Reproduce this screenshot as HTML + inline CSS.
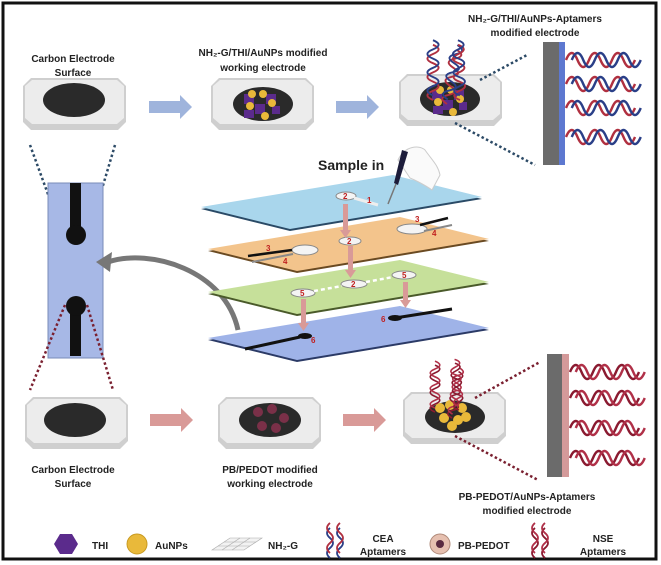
<!DOCTYPE html>
<html><head><meta charset="utf-8"><style>
html,body{margin:0;padding:0;background:#fff}
svg{display:block}
text{font-family:"Liberation Sans",sans-serif;font-weight:bold;fill:#222}
</style></head><body>
<svg width="661" height="565" viewBox="0 0 661 565" xmlns="http://www.w3.org/2000/svg">
<defs>
<g id="elec">
 <polygon points="0,8 8,0 95,0 103,8 103,44 95,52 8,52 0,44" fill="#cfcfcf"/>
 <polygon points="2,8 9,2 94,2 101,8 101,40 94,46 9,46 2,40" fill="#ececec"/>
</g>
<g id="hx">
 <path d="M0,0 q5.75,-14 11.5,0 t11.5,0 t11.5,0 t11.5,0 t11.5,0 t11.5,0" fill="none" stroke-width="2.4"/>
</g>
</defs>
<rect x="3" y="3" width="653" height="556" fill="#fff" stroke="#111" stroke-width="3"/>

<!-- TOP ROW -->
<text x="73" y="62" font-size="10" text-anchor="middle">Carbon Electrode</text>
<text x="73" y="76" font-size="10" text-anchor="middle">Surface</text>
<use href="#elec" x="23" y="78"/>
<ellipse cx="74" cy="100" rx="31" ry="17" fill="#2a2a2a"/>

<polygon points="149,101 180,101 180,95 192,107 180,119 180,113 149,113" fill="#9fb4dc"/>
<polygon points="336,101 367,101 367,95 379,107 367,119 367,113 336,113" fill="#9fb4dc"/>

<text x="263" y="56" font-size="10" text-anchor="middle">NH₂-G/THI/AuNPs modified</text>
<text x="263" y="71" font-size="10" text-anchor="middle">working electrode</text>
<use href="#elec" x="211" y="78"/>
<ellipse cx="263" cy="104" rx="30" ry="17" fill="#2a2a2a"/>
<g fill="#5b2b8c"><rect x="244" y="94" width="10" height="10"/><rect x="266" y="94" width="10" height="10"/><rect x="255" y="104" width="10" height="10"/><rect x="244" y="110" width="10" height="8"/><rect x="272" y="106" width="8" height="8"/></g>
<g fill="#e9b93a"><circle cx="252" cy="94" r="4"/><circle cx="263" cy="94" r="4"/><circle cx="272" cy="103" r="4"/><circle cx="250" cy="106" r="4"/><circle cx="265" cy="116" r="4"/></g>

<use href="#elec" x="399" y="74"/>
<ellipse cx="450" cy="99" rx="30" ry="17" fill="#2a2a2a"/>
<g fill="#5b2b8c"><rect x="432" y="90" width="10" height="10"/><rect x="454" y="90" width="10" height="10"/><rect x="443" y="100" width="10" height="10"/><rect x="433" y="106" width="10" height="8"/><rect x="459" y="102" width="8" height="8"/></g>
<g fill="#e9b93a"><circle cx="440" cy="90" r="4"/><circle cx="451" cy="90" r="4"/><circle cx="460" cy="99" r="4"/><circle cx="438" cy="102" r="4"/><circle cx="453" cy="112" r="4"/></g>
<g transform="translate(433,100) rotate(-90) scale(0.8)"><use href="#hx" stroke="#b03040"/><use href="#hx" stroke="#2a3f88" transform="translate(5.75,0)"/></g>
<g transform="translate(447,104) rotate(-80) scale(0.8)"><use href="#hx" stroke="#b03040"/><use href="#hx" stroke="#2a3f88" transform="translate(5.75,0)"/></g>
<g transform="translate(460,100) rotate(-92) scale(0.8)"><use href="#hx" stroke="#b03040"/><use href="#hx" stroke="#2a3f88" transform="translate(5.75,0)"/></g>

<text x="535" y="22" font-size="10" text-anchor="middle">NH₂-G/THI/AuNPs-Aptamers</text>
<text x="535" y="36" font-size="10" text-anchor="middle">modified  electrode</text>
<line x1="480" y1="80" x2="527" y2="55" stroke="#2c4a66" stroke-width="2.5" stroke-dasharray="2.5,2.5"/>
<line x1="455" y1="123" x2="535" y2="165" stroke="#2c4a66" stroke-width="2.5" stroke-dasharray="2.5,2.5"/>
<rect x="543" y="42" width="16" height="123" fill="#6b6b6b"/>
<rect x="559" y="42" width="6" height="123" fill="#5d78d0"/>
<g>
 <g transform="translate(566,60)"><use href="#hx" stroke="#b03040"/><use href="#hx" stroke="#2a3f88" transform="translate(5.75,0)"/></g>
 <g transform="translate(566,84)"><use href="#hx" stroke="#b03040"/><use href="#hx" stroke="#2a3f88" transform="translate(5.75,0)"/></g>
 <g transform="translate(566,108)"><use href="#hx" stroke="#b03040"/><use href="#hx" stroke="#2a3f88" transform="translate(5.75,0)"/></g>
 <g transform="translate(566,137)"><use href="#hx" stroke="#b03040"/><use href="#hx" stroke="#2a3f88" transform="translate(5.75,0)"/></g>
</g>

<!-- LEFT STRIP -->
<line x1="30" y1="145" x2="64" y2="238" stroke="#2c4a66" stroke-width="2.5" stroke-dasharray="2.5,2.5"/>
<line x1="115" y1="145" x2="88" y2="236" stroke="#2c4a66" stroke-width="2.5" stroke-dasharray="2.5,2.5"/>
<rect x="48" y="183" width="55" height="175" fill="#a7b8e6" stroke="#7a8bb8"/>
<rect x="70" y="183" width="11" height="52" fill="#111"/>
<circle cx="76" cy="235" r="10" fill="#111"/>
<rect x="70" y="306" width="11" height="50" fill="#111"/>
<circle cx="76" cy="306" r="10" fill="#111"/>
<line x1="65" y1="305" x2="30" y2="390" stroke="#7a2030" stroke-width="2.5" stroke-dasharray="2.5,2.5"/>
<line x1="87" y1="305" x2="113" y2="390" stroke="#7a2030" stroke-width="2.5" stroke-dasharray="2.5,2.5"/>
<path d="M238,330 C225,270 150,248 108,262" fill="none" stroke="#777" stroke-width="5"/>
<polygon points="96,262 112,252 110,272" fill="#777"/>

<!-- LAYERS -->
<g>
 <polygon points="208,340 297,362 489,330 400,308" fill="#2b3a66"/>
 <polygon points="208,338 297,360 489,328 400,306" fill="#9fb3e8"/>
 <polygon points="208,294 297,316 489,284 400,262" fill="#4a5a2a"/>
 <polygon points="208,292 297,314 489,282 400,260" fill="#c6e09a"/>
 <polygon points="208,251 297,273 489,241 400,219" fill="#6a4a22"/>
 <polygon points="208,249 297,271 489,239 400,217" fill="#f3c48c"/>
 <polygon points="201,209 290,231 482,199 393,177" fill="#2a4a66"/>
 <polygon points="201,207 290,229 482,197 393,175" fill="#a9d6ec"/>
</g>
<ellipse cx="346" cy="196" rx="10" ry="4" fill="#f4f4f4" stroke="#888"/>
<line x1="354" y1="198" x2="378" y2="205" stroke="#eee" stroke-width="3"/>
<text x="343" y="199" font-size="8" style="fill:#c02020">2</text>
<text x="367" y="203" font-size="8" style="fill:#c02020">1</text>
<ellipse cx="350" cy="241" rx="11" ry="4" fill="#f4f4f4" stroke="#888"/>
<text x="347" y="244" font-size="8" style="fill:#c02020">2</text>
<ellipse cx="305" cy="250" rx="13" ry="5" fill="#f4f4f4" stroke="#888"/>
<line x1="248" y1="256" x2="292" y2="250" stroke="#111" stroke-width="2.5"/>
<line x1="252" y1="262" x2="293" y2="254" stroke="#888" stroke-width="2"/>
<text x="266" y="251" font-size="8" style="fill:#c02020">3</text>
<text x="283" y="264" font-size="8" style="fill:#c02020">4</text>
<ellipse cx="412" cy="229" rx="15" ry="5" fill="#f4f4f4" stroke="#888"/>
<line x1="420" y1="225" x2="448" y2="218" stroke="#111" stroke-width="2.5"/>
<line x1="424" y1="231" x2="452" y2="225" stroke="#888" stroke-width="2"/>
<text x="415" y="222" font-size="8" style="fill:#c02020">3</text>
<text x="432" y="236" font-size="8" style="fill:#c02020">4</text>
<ellipse cx="303" cy="293" rx="12" ry="4" fill="#f4f4f4" stroke="#888"/>
<ellipse cx="354" cy="284" rx="13" ry="4" fill="#f4f4f4" stroke="#888"/>
<ellipse cx="404" cy="275" rx="12" ry="4" fill="#f4f4f4" stroke="#888"/>
<line x1="314" y1="291" x2="342" y2="286" stroke="#fff" stroke-width="2.5" stroke-dasharray="4,3"/>
<line x1="366" y1="282" x2="393" y2="277" stroke="#fff" stroke-width="2.5" stroke-dasharray="4,3"/>
<text x="300" y="296" font-size="8" style="fill:#c02020">5</text>
<text x="351" y="287" font-size="8" style="fill:#c02020">2</text>
<text x="402" y="278" font-size="8" style="fill:#c02020">5</text>
<line x1="245" y1="349" x2="300" y2="337" stroke="#111" stroke-width="3"/>
<ellipse cx="305" cy="336" rx="7" ry="3" fill="#111"/>
<text x="311" y="343" font-size="8" style="fill:#c02020">6</text>
<line x1="395" y1="318" x2="452" y2="309" stroke="#111" stroke-width="3"/>
<ellipse cx="395" cy="318" rx="7" ry="3" fill="#111"/>
<text x="381" y="322" font-size="8" style="fill:#c02020">6</text>
<g fill="#d99a98">
 <rect x="343" y="204" width="5" height="28"/><polygon points="340,230 351,230 345.5,238"/>
 <rect x="348" y="246" width="5" height="26"/><polygon points="345,270 356,270 350.5,278"/>
 <rect x="301" y="299" width="5" height="26"/><polygon points="298,323 309,323 303.5,331"/>
 <rect x="403" y="282" width="5" height="20"/><polygon points="400,300 411,300 405.5,308"/>
</g>
<path d="M398,160 C405,145 420,145 425,150 C432,160 438,165 440,175 L432,190 C425,185 415,180 410,178 Z" fill="#fafafa" stroke="#ccc"/>
<path d="M402,150 L408,152 L398,185 L394,183 Z" fill="#1c1c3a"/>
<line x1="396" y1="184" x2="388" y2="204" stroke="#777" stroke-width="1.5"/>
<text x="318" y="170" font-size="14">Sample in</text>

<!-- BOTTOM ROW -->
<use href="#elec" x="25" y="397"/>
<ellipse cx="75" cy="420" rx="31" ry="17" fill="#2a2a2a"/>
<text x="73" y="473" font-size="10" text-anchor="middle">Carbon Electrode</text>
<text x="73" y="487" font-size="10" text-anchor="middle">Surface</text>
<polygon points="150,414 181,414 181,408 193,420 181,432 181,426 150,426" fill="#d99a98"/>
<use href="#elec" x="218" y="397"/>
<ellipse cx="270" cy="420" rx="31" ry="17" fill="#2a2a2a"/>
<g fill="#7a3048"><circle cx="258" cy="412" r="5"/><circle cx="272" cy="409" r="5"/><circle cx="284" cy="418" r="5"/><circle cx="262" cy="426" r="5"/><circle cx="276" cy="428" r="5"/></g>
<text x="270" y="473" font-size="10" text-anchor="middle">PB/PEDOT modified</text>
<text x="270" y="487" font-size="10" text-anchor="middle">working electrode</text>
<polygon points="343,414 374,414 374,408 386,420 374,432 374,426 343,426" fill="#d99a98"/>
<use href="#elec" x="403" y="392"/>
<ellipse cx="455" cy="417" rx="30" ry="16" fill="#2a2a2a"/>
<g fill="#e9b93a"><circle cx="440" cy="408" r="5"/><circle cx="450" cy="405" r="5"/><circle cx="462" cy="408" r="5"/><circle cx="444" cy="418" r="5"/><circle cx="458" cy="420" r="5"/><circle cx="466" cy="417" r="5"/><circle cx="452" cy="426" r="5"/></g>
<g transform="translate(435,412) rotate(-90) scale(0.68)"><use href="#hx" stroke="#8a1a30"/><use href="#hx" stroke="#b03048" transform="translate(5.75,0)"/></g>
<g transform="translate(452,418) rotate(-82) scale(0.68)"><use href="#hx" stroke="#8a1a30"/><use href="#hx" stroke="#b03048" transform="translate(5.75,0)"/></g>
<g transform="translate(459,410) rotate(-95) scale(0.68)"><use href="#hx" stroke="#8a1a30"/><use href="#hx" stroke="#b03048" transform="translate(5.75,0)"/></g>
<line x1="475" y1="398" x2="540" y2="362" stroke="#7a2030" stroke-width="2.5" stroke-dasharray="2.5,2.5"/>
<line x1="455" y1="436" x2="538" y2="480" stroke="#7a2030" stroke-width="2.5" stroke-dasharray="2.5,2.5"/>
<rect x="547" y="354" width="15" height="123" fill="#6b6b6b"/>
<rect x="562" y="354" width="7" height="123" fill="#d49a9a"/>
<g>
 <g transform="translate(570,372)"><use href="#hx" stroke="#8a1a30"/><use href="#hx" stroke="#b03048" transform="translate(5.75,0)"/></g>
 <g transform="translate(570,398)"><use href="#hx" stroke="#8a1a30"/><use href="#hx" stroke="#b03048" transform="translate(5.75,0)"/></g>
 <g transform="translate(570,428)"><use href="#hx" stroke="#8a1a30"/><use href="#hx" stroke="#b03048" transform="translate(5.75,0)"/></g>
 <g transform="translate(570,458)"><use href="#hx" stroke="#8a1a30"/><use href="#hx" stroke="#b03048" transform="translate(5.75,0)"/></g>
</g>
<text x="527" y="500" font-size="10" text-anchor="middle">PB-PEDOT/AuNPs-Aptamers</text>
<text x="527" y="514" font-size="10" text-anchor="middle">modified  electrode</text>

<!-- LEGEND -->
<polygon points="60,534 72,534 78,544 72,554 60,554 54,544" fill="#5b2b8c"/>
<text x="92" y="549" font-size="10">THI</text>
<ellipse cx="137" cy="544" rx="10" ry="10" fill="#e9b93a" stroke="#c89a20"/>
<text x="155" y="549" font-size="10">AuNPs</text>
<g stroke="#aaa" stroke-width="0.6">
 <polygon points="212,550 230,538 262,538 244,550" fill="#f2f2f2"/>
 <line x1="218" y1="546" x2="250" y2="546"/><line x1="224" y1="542" x2="256" y2="542"/>
 <line x1="222" y1="550" x2="240" y2="538"/><line x1="232" y1="550" x2="250" y2="538"/>
</g>
<text x="268" y="549" font-size="10">NH₂-G</text>
<g transform="translate(330,558) rotate(-90)"><path d="M0,0 q5,-6 10,0 t10,0 t10,0" fill="none" stroke="#2a3f88" stroke-width="1.8"/><path d="M5,0 q5,-6 10,0 t10,0 t10,0" fill="none" stroke="#b03040" stroke-width="1.8"/></g>
<g transform="translate(340,558) rotate(-90)"><path d="M0,0 q5,-6 10,0 t10,0 t10,0" fill="none" stroke="#2a3f88" stroke-width="1.8"/><path d="M5,0 q5,-6 10,0 t10,0 t10,0" fill="none" stroke="#b03040" stroke-width="1.8"/></g>
<text x="383" y="542" font-size="10" text-anchor="middle">CEA</text>
<text x="383" y="555" font-size="10" text-anchor="middle">Aptamers</text>
<circle cx="440" cy="544" r="10" fill="#e6c0b0" stroke="#b08a7a"/>
<circle cx="440" cy="544" r="4" fill="#5a2a40"/>
<text x="458" y="549" font-size="10">PB-PEDOT</text>
<g transform="translate(535,558) rotate(-90)"><path d="M0,0 q5,-6 10,0 t10,0 t10,0" fill="none" stroke="#8a1a30" stroke-width="1.8"/><path d="M5,0 q5,-6 10,0 t10,0 t10,0" fill="none" stroke="#b03048" stroke-width="1.8"/></g>
<g transform="translate(545,558) rotate(-90)"><path d="M0,0 q5,-6 10,0 t10,0 t10,0" fill="none" stroke="#8a1a30" stroke-width="1.8"/><path d="M5,0 q5,-6 10,0 t10,0 t10,0" fill="none" stroke="#b03048" stroke-width="1.8"/></g>
<text x="603" y="542" font-size="10" text-anchor="middle">NSE</text>
<text x="603" y="555" font-size="10" text-anchor="middle">Aptamers</text>
</svg>
</body></html>
